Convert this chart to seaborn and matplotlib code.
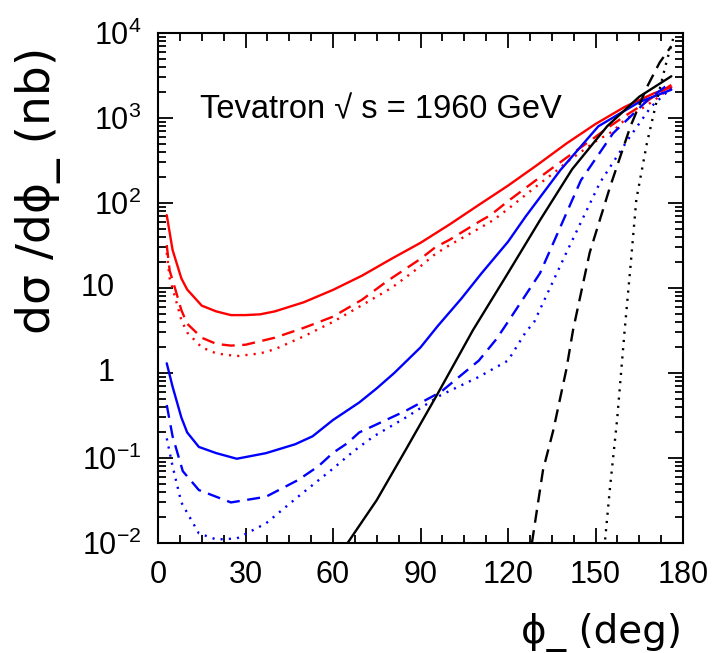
import numpy as np
import pandas as pd
import seaborn as sns
import matplotlib
matplotlib.use("Agg")
import matplotlib.pyplot as plt
import matplotlib.transforms as mtransforms
from matplotlib.ticker import FixedLocator, MultipleLocator, LogLocator, NullFormatter

# ---------------- data ----------------
red_solid_x = [3, 5, 8, 10, 15, 20, 25, 30, 35, 40, 50, 60, 70, 80, 90, 100, 110, 120, 130, 140, 150, 160, 170, 176]
red_solid_y = [72, 28, 13, 9.6, 6.2, 5.3, 4.8, 4.8, 4.9, 5.3, 6.8, 9.5, 14, 22, 34, 56, 95, 160, 280, 500, 850, 1350, 1950, 2300]

red_dash_x = [3, 4, 6, 8, 10, 15, 20, 25, 30, 40, 50, 60, 70, 77, 80, 90, 95, 100, 110, 114, 120, 130, 135, 140, 150, 154, 160, 165, 170, 176]
red_dash_y = [32, 16, 9.5, 5.5, 3.8, 2.6, 2.2, 2.1, 2.15, 2.6, 3.4, 4.6, 7.3, 11, 13, 22, 30, 37, 60, 72, 105, 190, 255, 340, 600, 760, 1050, 1350, 1800, 2450]

red_dot_x = [3, 4, 6, 8, 10, 15, 20, 27, 35, 40, 50, 60, 70, 80, 90, 95, 100, 110, 115, 120, 130, 137, 140, 150, 156, 160, 170, 176]
red_dot_y = [26, 13, 7.5, 4.2, 3.0, 2.0, 1.7, 1.58, 1.7, 1.9, 2.7, 4.0, 6.3, 10, 18, 25, 32, 50, 63, 85, 160, 245, 300, 530, 700, 950, 1600, 2300]

blue_solid_x = [3, 5, 8, 10, 14, 20, 27, 37, 47, 53, 60, 69, 75, 81, 90, 96, 104, 111, 120, 126, 138, 151, 165, 176]
blue_solid_y = [1.3, 0.69, 0.3, 0.2, 0.135, 0.114, 0.098, 0.114, 0.145, 0.18, 0.28, 0.45, 0.66, 1.0, 2.0, 3.6, 7.5, 15, 35, 69, 245, 800, 1540, 2150]

blue_dash_x = [3, 5, 8.5, 14, 25, 37, 48, 55, 60, 65, 69, 74, 85, 97, 110, 116, 120, 131, 145, 156, 168, 176]
blue_dash_y = [0.42, 0.18, 0.07, 0.042, 0.030, 0.035, 0.055, 0.08, 0.115, 0.15, 0.2, 0.24, 0.36, 0.6, 1.4, 2.5, 4.0, 15, 185, 660, 1640, 2650]

blue_dot_x = [3, 5, 8, 14, 20, 27, 37, 48, 60, 65, 69, 74, 85, 97, 110, 120, 126, 129, 140, 151.5, 161, 169, 176]
blue_dot_y = [0.17, 0.08, 0.03, 0.013, 0.011, 0.0113, 0.017, 0.035, 0.075, 0.105, 0.135, 0.18, 0.3, 0.55, 0.9, 1.4, 3.0, 4.0, 26, 173, 550, 1350, 2250]

black_solid_x = [65, 75, 85, 96, 108, 120, 131, 142, 154, 165, 176]
black_solid_y = [0.01, 0.032, 0.126, 0.58, 3.2, 15, 63, 250, 800, 1780, 3100]

black_dash_x = [128.2, 132, 135.5, 140, 142.3, 148, 155, 162, 167.6, 172, 176]
black_dash_y = [0.01, 0.072, 0.21, 1.1, 3.2, 26, 155, 800, 2300, 4500, 7000]

black_dot_x = [153.3, 155, 157.4, 159.5, 160, 162, 164, 167.6, 171, 174.5, 176.8]
black_dot_y = [0.011, 0.046, 0.28, 2.0, 3.2, 18, 110, 500, 1600, 4800, 9000]

x_ticks = [0, 30, 60, 90, 120, 150, 180]
x_tick_labels = ["0", "30", "60", "90", "120", "150", "180"]
y_ticks = [1e-2, 1e-1, 1, 10, 1e2, 1e3, 1e4]
y_tick_labels = [r"10$^{\mathregular{-2}}$", r"10$^{\mathregular{-1}}$", "1", "10",
                 r"10$^{\mathregular{2}}$", r"10$^{\mathregular{3}}$", r"10$^{\mathregular{4}}$"]
plain_y_labels = {"1", "10"}   # drawn a little further left, as in the reference
title_text = "Tevatron \u221A s = 1960 GeV"
x_label = "\u03D5_ (deg)"
y_label = "d\u03C3 /d\u03D5_ (nb)"

# ---------------- style ----------------
sns.set_style("ticks")
plt.rcParams["font.family"] = ["Liberation Sans", "DejaVu Sans"]
plt.rcParams["mathtext.fontset"] = "custom"
plt.rcParams["mathtext.rm"] = "Liberation Sans"
plt.rcParams["mathtext.it"] = "Liberation Sans"
plt.rcParams["mathtext.default"] = "regular"
for k in ["text.color", "axes.labelcolor", "xtick.color", "ytick.color", "axes.edgecolor"]:
    plt.rcParams[k] = "black"

fig = plt.figure(figsize=(7.16, 6.53), dpi=100)
ax = fig.add_axes([158 / 716, 1 - 543 / 653, (683 - 158) / 716, (543 - 33) / 653])

DASH = (0, (5.5, 3.2))
DOT = (0, (0.9, 2.6))
series = [
    (red_solid_x, red_solid_y, "#ff0000", "-"),
    (red_dash_x, red_dash_y, "#ff0000", DASH),
    (red_dot_x, red_dot_y, "#ff0000", DOT),
    (blue_solid_x, blue_solid_y, "#0000ff", "-"),
    (blue_dash_x, blue_dash_y, "#0000ff", DASH),
    (blue_dot_x, blue_dot_y, "#0000ff", DOT),
    (black_solid_x, black_solid_y, "#000000", "-"),
    (black_dash_x, black_dash_y, "#000000", DASH),
    (black_dot_x, black_dot_y, "#000000", DOT),
]
for xs, ys, col, ls in series:
    df = pd.DataFrame({"phi": xs, "dsig": ys})
    sns.lineplot(data=df, x="phi", y="dsig", ax=ax, color=col, linestyle=ls,
                 linewidth=1.7, estimator=None, sort=False)

ax.set_yscale("log")
ax.set_xlim(0, 180)
ax.set_ylim(1e-2, 1e4)

ax.xaxis.set_major_locator(FixedLocator(x_ticks))
ax.set_xticklabels(x_tick_labels)
ax.xaxis.set_minor_locator(MultipleLocator(7.5))
ax.yaxis.set_major_locator(FixedLocator(y_ticks))
ax.set_yticklabels(["" if l in plain_y_labels else l for l in y_tick_labels])
ax.yaxis.set_minor_locator(LogLocator(base=10, subs=np.arange(2, 10), numticks=20))
ax.yaxis.set_minor_formatter(NullFormatter())

ax.tick_params(which="both", direction="in", top=True, right=True, width=1.3, colors="black")
ax.tick_params(which="major", length=11)
ax.tick_params(which="minor", length=6)
ax.tick_params(axis="x", which="major", labelsize=22, pad=12)
ax.tick_params(axis="y", which="major", labelsize=22, pad=12)
for s in ax.spines.values():
    s.set_linewidth(1.5)
    s.set_color("black")

ylab_trans = mtransforms.blended_transform_factory(ax.transAxes, ax.transData)
for val, lab in zip(y_ticks, y_tick_labels):
    if lab in plain_y_labels:
        ax.text(-0.082, val, lab, transform=ylab_trans, ha="right", va="center",
                fontsize=22, clip_on=False)

ax.set_xlabel("")
ax.set_ylabel("")
fig.text(682 / 716, 1 - 633 / 653, x_label, ha="right", va="center", fontsize=28,
         family=["DejaVu Sans"])
fig.text(38 / 716, 1 - 190 / 653, y_label, ha="center", va="center", rotation=90, fontsize=34,
         family=["DejaVu Sans"])
fig.text(200 / 716, 1 - 110 / 653, title_text, ha="left", va="center", fontsize=23.5)

fig.savefig("out.png", dpi=100)
